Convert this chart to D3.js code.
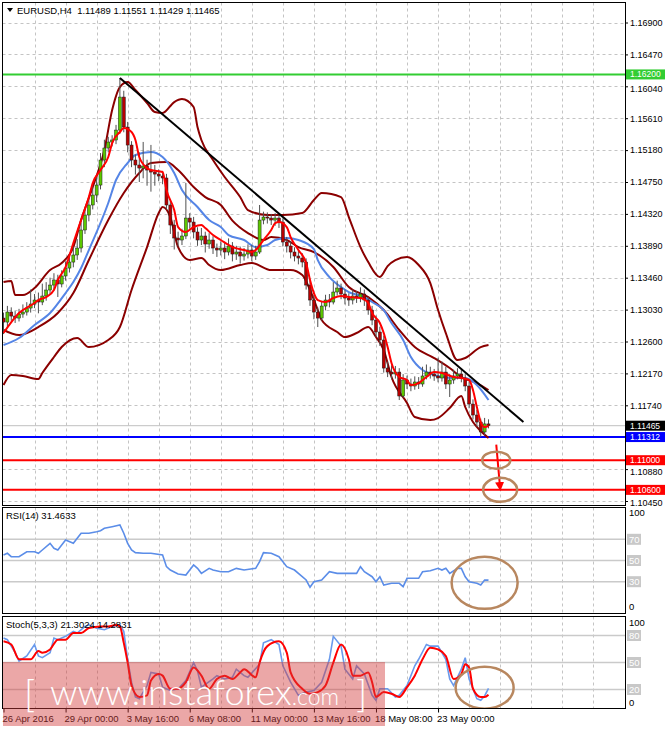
<!DOCTYPE html>
<html>
<head>
<meta charset="utf-8">
<script src="https://cdnjs.cloudflare.com/ajax/libs/d3/7.8.5/d3.min.js"></script>
<style>
  body { margin: 0; background: #fff; }
  svg { display: block; font-family: 'Liberation Sans', Arial, sans-serif; }
</style>
</head>
<body>
<svg></svg>
<script>
// EURUSD H4, one value per bar (bar 0 = 26 Apr 2016 08:00)
const opens = [1.12916,1.12862,1.12997,1.12943,1.12916,1.12970,1.12997,1.13051,1.13105,1.13159,
  1.13132,1.13213,1.13294,1.13361,1.13429,1.13375,1.13483,1.13590,1.13671,1.13766,
  1.13860,1.14103,1.14305,1.14440,1.14574,1.14709,1.15046,1.15208,1.15289,1.15316,
  1.15450,1.15895,1.15491,1.15248,1.15046,1.14979,1.14938,1.14965,1.14911,1.14884,
  1.14857,1.14830,1.14804,1.14440,1.14170,1.13995,1.13968,1.14022,1.14264,1.14210,
  1.14076,1.13968,1.14022,1.13914,1.13968,1.13860,1.13833,1.13860,1.13806,1.13887,
  1.13779,1.13806,1.13752,1.13779,1.13833,1.13752,1.13806,1.14237,1.14278,1.14264,
  1.14237,1.14264,1.14210,1.13941,1.13887,1.13806,1.13752,1.13725,1.13671,1.13361,
  1.13159,1.12997,1.12916,1.13078,1.13159,1.13132,1.13267,1.13321,1.13240,1.13186,
  1.13159,1.13213,1.13186,1.13240,1.13159,1.13024,1.12889,1.12728,1.12620,1.12242,
  1.12188,1.12162,1.12188,1.11865,1.12081,1.12027,1.12000,1.12054,1.12027,1.12135,
  1.12188,1.12162,1.12135,1.12108,1.12188,1.12027,1.12081,1.12135,1.12162,1.12108,
  1.12000,1.11757,1.11609,1.11514,1.11380,1.11489];
const highs = [1.12990,1.13080,1.13060,1.13010,1.13040,1.13100,1.13130,1.13300,1.13240,1.13260,
  1.13380,1.13400,1.13460,1.13520,1.13500,1.13560,1.13680,1.13760,1.13880,1.13980,
  1.14200,1.14400,1.14560,1.14700,1.14820,1.15140,1.15320,1.15360,1.15380,1.15520,
  1.16152,1.15980,1.15560,1.15300,1.15120,1.15150,1.15290,1.15050,1.15250,1.14980,
  1.14920,1.14900,1.14860,1.14500,1.14240,1.14080,1.14120,1.14736,1.14330,1.14280,
  1.14140,1.14130,1.14080,1.14060,1.14020,1.13920,1.13950,1.13940,1.13990,1.13940,
  1.13890,1.13880,1.13860,1.13910,1.13900,1.13890,1.14440,1.14350,1.14340,1.14320,
  1.14330,1.14310,1.14260,1.14010,1.13950,1.13870,1.13820,1.13790,1.13720,1.13420,
  1.13230,1.13060,1.13150,1.13230,1.13240,1.13400,1.13420,1.13380,1.13300,1.13250,
  1.13300,1.13280,1.13330,1.13300,1.13200,1.13080,1.12950,1.12800,1.12680,1.12330,
  1.12280,1.12270,1.12240,1.12160,1.12140,1.12100,1.12130,1.12120,1.12260,1.12290,
  1.12260,1.12230,1.12380,1.12330,1.12260,1.12160,1.12220,1.12240,1.12230,1.12160,
  1.12060,1.11820,1.11680,1.11560,1.11570,1.11551];
const lows = [1.12700,1.12800,1.12880,1.12850,1.12870,1.12920,1.12950,1.12990,1.13050,1.12980,
  1.13090,1.13150,1.13230,1.13300,1.13200,1.13330,1.13420,1.13530,1.13600,1.13700,
  1.13800,1.14050,1.14220,1.14380,1.14480,1.14650,1.14950,1.15150,1.15230,1.15260,
  1.15400,1.15420,1.15150,1.14950,1.14850,1.14750,1.14800,1.14700,1.14620,1.14700,
  1.14760,1.14720,1.14380,1.14050,1.13840,1.13880,1.13900,1.13980,1.14120,1.13990,
  1.13890,1.13900,1.13800,1.13850,1.13780,1.13740,1.13760,1.13710,1.13760,1.13680,
  1.13700,1.13650,1.13690,1.13720,1.13680,1.13700,1.13780,1.14180,1.14190,1.14170,
  1.14160,1.14130,1.13880,1.13800,1.13720,1.13680,1.13640,1.13600,1.13300,1.13080,
  1.12900,1.12795,1.12880,1.13020,1.13060,1.13100,1.13220,1.13170,1.13100,1.13080,
  1.13100,1.13120,1.13130,1.13080,1.12960,1.12820,1.12660,1.12540,1.12180,1.12120,
  1.12090,1.12100,1.11811,1.11840,1.11960,1.11930,1.11950,1.11960,1.11990,1.12090,
  1.12100,1.12070,1.12050,1.12060,1.11960,1.11852,1.12030,1.12090,1.12050,1.11930,
  1.11700,1.11550,1.11450,1.11312,1.11340,1.11429];
const closes = [1.12862,1.12997,1.12943,1.12916,1.12970,1.12997,1.13051,1.13105,1.13159,1.13132,
  1.13213,1.13294,1.13361,1.13429,1.13375,1.13483,1.13590,1.13671,1.13766,1.13860,
  1.14103,1.14305,1.14440,1.14574,1.14709,1.15046,1.15208,1.15289,1.15316,1.15450,
  1.15895,1.15491,1.15248,1.15046,1.14979,1.14938,1.14965,1.14911,1.14884,1.14857,
  1.14830,1.14804,1.14440,1.14170,1.13995,1.13968,1.14022,1.14264,1.14210,1.14076,
  1.13968,1.14022,1.13914,1.13968,1.13860,1.13833,1.13860,1.13806,1.13887,1.13779,
  1.13806,1.13752,1.13779,1.13833,1.13752,1.13806,1.14237,1.14278,1.14264,1.14237,
  1.14264,1.14210,1.13941,1.13887,1.13806,1.13752,1.13725,1.13671,1.13361,1.13159,
  1.12997,1.12916,1.13078,1.13159,1.13132,1.13267,1.13321,1.13240,1.13186,1.13159,
  1.13213,1.13186,1.13240,1.13159,1.13024,1.12889,1.12728,1.12620,1.12242,1.12188,
  1.12162,1.12188,1.11865,1.12081,1.12027,1.12000,1.12054,1.12027,1.12135,1.12188,
  1.12162,1.12135,1.12108,1.12188,1.12027,1.12081,1.12135,1.12162,1.12108,1.12000,
  1.11757,1.11609,1.11514,1.11380,1.11489,1.11465];

// indicator lines: [bar, value]
const upperBand = [[0,1.13402],[2,1.13415],[3,1.13226],[5,1.13226],[8,1.13321],[12,1.13563],[15,1.13658],
  [18,1.13873],[20,1.14237],[23,1.14682],[26,1.15181],[28,1.15720],[30,1.16030],[32,1.16098],[34,1.15990],
  [37,1.15815],[39,1.15693],[41,1.15680],[44,1.15828],[46,1.15868],[49,1.15761],[50,1.15491],[51,1.15316],
  [54,1.15046],[57,1.14817],[61,1.14547],[63,1.14372],[68,1.14305],[72,1.14305],[77,1.14332],[80,1.14507],
  [82,1.14601],[87,1.14547],[89,1.14278],[92,1.13873],[94,1.13671],[97,1.13469],[99,1.13617],[101,1.13698],
  [104,1.13739],[107,1.13631],[110,1.13388],[112,1.13024],[114,1.12714],[117,1.12350],[119,1.12377],
  [123,1.12525],[125,1.12552]];
const middleBand = [[0,1.12755],[4,1.12687],[9,1.12795],[14,1.12984],[18,1.13253],[22,1.13698],[27,1.14237],
  [31,1.14601],[35,1.14871],[38,1.15006],[42,1.15019],[45,1.14911],[49,1.14682],[52,1.14547],[56,1.14440],
  [59,1.14230],[63,1.14062],[67,1.13968],[69,1.14008],[73,1.13968],[76,1.13873],[80,1.13806],[85,1.13604],
  [89,1.13334],[94,1.13199],[98,1.13024],[102,1.12755],[106,1.12525],[111,1.12377],[115,1.12242],
  [118,1.12121],[122,1.12040],[125,1.11946]];
const lowerBand = [[0,1.12013],[2,1.12148],[5,1.12135],[9,1.12094],[10,1.12175],[13,1.12391],[15,1.12525],
  [19,1.12647],[22,1.12525],[27,1.12620],[30,1.12795],[33,1.13294],[37,1.13873],[40,1.14332],[41,1.14413],
  [43,1.14278],[45,1.13873],[48,1.13698],[51,1.13725],[53,1.13631],[56,1.13563],[61,1.13631],[64,1.13658],
  [69,1.13563],[74,1.13563],[77,1.13496],[79,1.13294],[81,1.13024],[82,1.12889],[86,1.12728],[88,1.12660],
  [91,1.12714],[94,1.12795],[96,1.12660],[98,1.12485],[100,1.12121],[104,1.11770],[106,1.11582],
  [110,1.11541],[112,1.11568],[115,1.11703],[118,1.11865],[119,1.11717],[121,1.11514],[123,1.11393],
  [125,1.11299]];
const fastMa = [[0,1.12714],[4,1.12984],[8,1.13119],[9,1.13159],[11,1.13199],[13,1.13294],[14,1.13429],
  [16,1.13604],[18,1.13927],[20,1.14237],[22,1.14547],[23,1.14736],[25,1.14911],[27,1.15087],[28,1.15275],
  [30,1.15424],[31,1.15478],[33,1.15424],[34,1.15316],[35,1.15087],[37,1.14939],[38,1.14911],[41,1.14884],
  [42,1.14642],[44,1.14372],[45,1.14143],[47,1.14076],[49,1.14143],[51,1.14170],[52,1.14130],[54,1.14035],
  [56,1.13968],[59,1.13873],[62,1.13833],[64,1.13806],[65,1.13833],[67,1.13968],[69,1.14103],[70,1.14197],
  [71,1.14210],[73,1.14143],[74,1.14008],[76,1.13833],[78,1.13658],[79,1.13429],[80,1.13253],[81,1.13159],
  [83,1.13132],[85,1.13186],[87,1.13213],[89,1.13199],[92,1.13186],[94,1.13119],[95,1.12984],[97,1.12849],
  [98,1.12714],[99,1.12525],[100,1.12310],[102,1.12121],[104,1.12081],[105,1.12013],[107,1.12040],
  [109,1.12121],[111,1.12188],[113,1.12175],[116,1.12121],[118,1.12108],[120,1.12081],[121,1.11946],
  [122,1.11717],[123,1.11514],[124,1.11447],[125,1.11461]];
const slowMa = [[0,1.12552],[4,1.12647],[8,1.12822],[12,1.12984],[16,1.13253],[18,1.13402],[20,1.13590],
  [22,1.13833],[27,1.14467],[29,1.14777],[32,1.15006],[34,1.15114],[38,1.15154],[41,1.15087],[44,1.14871],
  [46,1.14642],[50,1.14413],[53,1.14237],[56,1.14143],[58,1.14035],[62,1.13968],[65,1.13873],[68,1.13900],
  [70,1.13968],[73,1.13995],[76,1.13968],[80,1.13846],[81,1.13698],[84,1.13469],[87,1.13334],[89,1.13267],
  [93,1.13199],[95,1.13132],[98,1.13024],[100,1.12849],[103,1.12620],[105,1.12391],[108,1.12215],
  [111,1.12148],[113,1.12121],[116,1.12108],[119,1.12108],[122,1.12013],[125,1.11811]];
const trendLine = [[30,1.16152],[134,1.11515]];

const rsiLine = [[0,55.2],[1,56.8],[2,53.6],[4,53.6],[6,58.3],[8,58.3],[9,56.8],[10,59.9],[12,66.2],[13,61.5],
  [14,59.9],[16,69.3],[18,66.2],[19,70.9],[20,75.7],[22,75.7],[24,77.2],[25,78.1],[26,80.4],[28,81.9],
  [30,83.5],[31,75.7],[32,66.2],[33,59.9],[34,57.4],[36,56.8],[38,56.8],[41,55.2],[42,44.2],[43,41.0],
  [45,37.3],[47,36.3],[48,41.0],[49,45.8],[50,42.6],[51,37.9],[53,42.6],[54,41.0],[56,39.4],[58,39.4],
  [59,41.0],[60,42.6],[62,41.0],[65,42.6],[66,48.9],[67,57.4],[69,56.8],[71,53.6],[73,44.2],[75,41.0],
  [78,31.6],[79,24.7],[80,30.0],[82,31.6],[84,39.4],[86,37.9],[89,37.9],[91,37.9],[92,44.2],[93,39.4],
  [95,34.7],[96,30.0],[97,34.7],[98,26.9],[100,28.5],[102,28.5],[103,25.3],[104,33.2],[107,33.2],[108,39.4],
  [110,40.4],[112,42.6],[113,41.0],[114,42.6],[115,37.9],[117,42.6],[118,42.6],[119,34.7],[120,30.0],
  [122,28.5],[123,26.9],[124,31.6],[125,31.4633]];
const stochK = [[0,77.2],[1,75.4],[3,60.9],[4,51.7],[6,57.2],[8,70.0],[9,57.2],[10,55.4],[12,60.9],[13,77.2],
  [14,75.4],[16,79.1],[18,84.5],[19,82.7],[21,90.0],[22,91.8],[24,88.2],[26,86.4],[28,90.0],[30,91.8],
  [31,84.6],[32,53.6],[33,28.1],[34,11.7],[35,9.8],[37,24.4],[38,39.0],[40,37.2],[41,22.6],[43,18.9],
  [45,20.8],[47,29.9],[49,49.9],[50,40.8],[51,22.6],[54,31.7],[55,35.4],[57,31.7],[59,33.5],[60,42.6],
  [62,35.4],[63,33.5],[66,48.1],[67,71.8],[69,75.4],[71,70.0],[72,46.3],[74,28.1],[76,13.5],[78,17.1],
  [80,18.9],[82,28.1],[84,53.6],[85,79.1],[87,68.2],[88,42.6],[90,31.7],[91,46.3],[93,37.2],[95,13.5],
  [96,8.0],[97,20.8],[99,20.8],[101,11.7],[102,13.5],[104,24.4],[106,46.3],[107,53.6],[109,70.0],[110,68.2],
  [112,68.2],[114,53.6],[115,31.7],[116,24.4],[118,42.6],[119,55.4],[120,31.7],[122,9.8],[123,8.0],
  [124,12.8],[125,21.3024]];
const stochD = [[0,73.6],[2,70.0],[4,53.6],[7,53.6],[9,62.7],[10,60.9],[12,64.5],[14,75.4],[16,75.4],[18,82.7],
  [20,82.7],[22,88.2],[25,90.0],[27,90.0],[29,91.8],[30,90.0],[31,71.8],[32,49.9],[33,24.4],[35,11.7],
  [37,13.5],[38,29.9],[40,37.2],[41,35.4],[43,20.8],[45,20.8],[47,28.1],[49,44.5],[51,35.4],[53,20.8],
  [55,31.7],[57,35.4],[59,31.7],[61,39.0],[62,42.6],[65,33.5],[66,49.9],[68,68.2],[71,73.6],[73,60.9],
  [74,39.0],[77,20.8],[79,15.3],[81,17.1],[83,24.4],[85,49.9],[87,70.0],[89,53.6],[90,35.4],[92,35.4],
  [94,39.0],[95,28.1],[96,11.7],[98,17.1],[100,15.3],[102,11.7],[104,22.6],[106,35.4],[108,53.6],[110,66.4],
  [112,64.5],[114,57.2],[116,31.7],[118,37.2],[119,48.1],[120,44.5],[121,20.8],[123,11.7],[124,11.7],
  [125,14.2831]];

const priceTicks = [1.16900,1.16470,1.16040,1.15610,1.15180,1.14750,1.14320,1.13890,1.13460,1.13030,
  1.12600,1.12170,1.11740,1.11310,1.10880,1.10450];
const levelPrices = [1.16200, 1.11312, 1.11000, 1.10600];
const rsiTicks = [100, 70, 50, 30, 0];
const rsiLevels = [70, 50, 30];
const stochTicks = [100, 80, 50, 20, 0];
const stochLevels = [80, 50, 20];
const dateBars = [0, 16, 32, 48, 64, 80, 96, 112];
const dateLabels = ['26 Apr 2016', '29 Apr 00:00', '3 May 16:00', '6 May 08:00', '11 May 00:00',
  '13 May 16:00', '18 May 08:00', '23 May 00:00'];
const targetBars = [127, 128];
const targetPrices = [1.11000, 1.10600];
const arrowBars = [127, 128];
const arrowPrices = [1.11210, 1.10620];
const rsiMark = [124, 29];
const stochMark = [124, 22];

window.onload = () => {

  const width = 665;
  const height = 729;
  const left = 2.5;
  const right = 625;

  const pricePanel = {name: 'price', top: 2.5, bottom: 505.5};
  const rsiPanel = {name: 'rsi', top: 507.5, bottom: 613.5};
  const stochPanel = {name: 'stoch', top: 616.5, bottom: 708.5};

  const levelColors = ['#32cd32', '#0000ff', '#ff0000', '#ff0000'];
  const gridColor = '#c4c4c4';

  const svg = d3.select('svg').attr('width', width).attr('height', height);

  const x = d3.scaleLinear().domain([0, 160]).range([3.5, 3.5 + 160 * 3.88]);
  const yPrice = d3.scaleLinear().domain([1.10450, 1.16900]).range([501, 22.5]);
  const yRsi = d3.scaleLinear().domain([0, 100]).range([613.5, 507.5]);
  const yStoch = d3.scaleLinear().domain([0, 100]).range([707.5, 617.5]);

  const gridBars = d3.range(8, 160, 8);

  const makePanel = (p) => {
    svg.append('clipPath').attr('id', 'clip-' + p.name).append('rect')
      .attr('x', left).attr('y', p.top).attr('width', right - left).attr('height', p.bottom - p.top);
    const g = svg.append('g').attr('clip-path', 'url(#clip-' + p.name + ')');
    g.selectAll('.vgrid')
      .data(gridBars)
      .enter()
      .append('line')
      .attr('class', 'vgrid')
      .attr('x1', d => Math.round(x(d)) + 0.5).attr('x2', d => Math.round(x(d)) + 0.5)
      .attr('y1', p.top).attr('y2', p.bottom)
      .attr('stroke', gridColor).attr('stroke-dasharray', '3,3');
    return g;
  };

  // ---------- price panel ----------
  const pg = makePanel(pricePanel);

  pg.selectAll('.hgrid')
    .data(priceTicks)
    .enter()
    .append('line')
    .attr('x1', left).attr('x2', right)
    .attr('y1', d => Math.round(yPrice(d)) + 0.5).attr('y2', d => Math.round(yPrice(d)) + 0.5)
    .attr('stroke', gridColor).attr('stroke-dasharray', '3,3');

  // current price line
  const lastClose = closes[closes.length - 1];
  pg.append('line')
    .attr('x1', left).attr('x2', right)
    .attr('y1', yPrice(lastClose)).attr('y2', yPrice(lastClose))
    .attr('stroke', '#c0c0c0');

  pg.selectAll('.level')
    .data(levelPrices)
    .enter()
    .append('line')
    .attr('x1', left).attr('x2', right)
    .attr('y1', d => yPrice(d)).attr('y2', d => yPrice(d))
    .attr('stroke', (d, i) => levelColors[i]).attr('stroke-width', 2);

  const priceLine = d3.line().x(d => x(d[0])).y(d => yPrice(d[1])).curve(d3.curveMonotoneX);

  [upperBand, middleBand, lowerBand].forEach(band => {
    pg.append('path').datum(band)
      .attr('d', priceLine)
      .attr('fill', 'none').attr('stroke', '#8b0000').attr('stroke-width', 2);
  });
  pg.append('path').datum(slowMa)
    .attr('d', priceLine)
    .attr('fill', 'none').attr('stroke', '#5585e6').attr('stroke-width', 2);

  const bars = d3.range(closes.length).map(i => ({i: i, o: opens[i], h: highs[i], l: lows[i], c: closes[i]}));

  pg.selectAll('.wick')
    .data(bars)
    .enter()
    .append('line')
    .attr('class', 'wick')
    .attr('x1', d => x(d.i)).attr('x2', d => x(d.i))
    .attr('y1', d => yPrice(d.h)).attr('y2', d => yPrice(d.l))
    .attr('stroke', '#505050');

  pg.selectAll('.body')
    .data(bars)
    .enter()
    .append('rect')
    .attr('class', 'body')
    .attr('x', d => x(d.i) - 1.5)
    .attr('width', 3)
    .attr('y', d => yPrice(Math.max(d.o, d.c)))
    .attr('height', d => Math.max(1, Math.abs(yPrice(d.o) - yPrice(d.c))))
    .attr('fill', d => d.c >= d.o ? '#5cc800' : '#b80000')
    .attr('stroke', '#1a1a1a').attr('stroke-width', 0.5);

  pg.append('path').datum(fastMa)
    .attr('d', priceLine)
    .attr('fill', 'none').attr('stroke', '#ff0000').attr('stroke-width', 2);

  pg.append('path').datum(trendLine)
    .attr('d', d3.line().x(d => x(d[0])).y(d => yPrice(d[1])))
    .attr('fill', 'none').attr('stroke', '#000').attr('stroke-width', 2);

  // forecast arrow and target ellipses
  svg.append('defs').append('marker')
    .attr('id', 'arrowhead')
    .attr('viewBox', '0 0 10 10').attr('refX', 7).attr('refY', 5)
    .attr('markerWidth', 4.5).attr('markerHeight', 5).attr('orient', 'auto')
    .append('path').attr('d', 'M0,0 L10,5 L0,10 Z').attr('fill', '#ff0000');

  pg.append('line')
    .attr('x1', x(arrowBars[0])).attr('y1', yPrice(arrowPrices[0]))
    .attr('x2', x(arrowBars[1])).attr('y2', yPrice(arrowPrices[1]))
    .attr('stroke', '#ff0000').attr('stroke-width', 2)
    .attr('marker-end', 'url(#arrowhead)');

  pg.selectAll('.target')
    .data(targetBars)
    .enter()
    .append('ellipse')
    .attr('cx', d => x(d))
    .attr('cy', (d, i) => yPrice(targetPrices[i]))
    .attr('rx', (d, i) => i === 0 ? 14 : 17)
    .attr('ry', (d, i) => i === 0 ? 8.5 : 12)
    .attr('fill', 'none').attr('stroke', '#b8875f').attr('stroke-width', 2.5);

  // ---------- RSI panel ----------
  const rg = makePanel(rsiPanel);
  rg.selectAll('.lvl')
    .data(rsiLevels)
    .enter()
    .append('line')
    .attr('x1', left).attr('x2', right)
    .attr('y1', d => yRsi(d)).attr('y2', d => yRsi(d))
    .attr('stroke', '#cacaca').attr('stroke-width', 1.5);
  rg.append('path').datum(rsiLine)
    .attr('d', d3.line().x(d => x(d[0])).y(d => yRsi(d[1])))
    .attr('fill', 'none').attr('stroke', '#5b8de8').attr('stroke-width', 1.6);
  rg.append('ellipse')
    .attr('cx', x(rsiMark[0])).attr('cy', yRsi(rsiMark[1]))
    .attr('rx', 33).attr('ry', 26)
    .attr('fill', 'none').attr('stroke', '#b8875f').attr('stroke-width', 2.5);

  // ---------- Stochastic panel ----------
  const sg = makePanel(stochPanel);
  sg.selectAll('.lvl')
    .data(stochLevels)
    .enter()
    .append('line')
    .attr('x1', left).attr('x2', right)
    .attr('y1', d => yStoch(d)).attr('y2', d => yStoch(d))
    .attr('stroke', '#cacaca').attr('stroke-width', 1.5);
  const stochLine = d3.line().x(d => x(d[0])).y(d => yStoch(d[1]));
  sg.append('path').datum(stochK)
    .attr('d', stochLine)
    .attr('fill', 'none').attr('stroke', '#6a9aec').attr('stroke-width', 1.6);
  sg.append('path').datum(stochD)
    .attr('d', stochLine.curve(d3.curveMonotoneX))
    .attr('fill', 'none').attr('stroke', '#ff0000').attr('stroke-width', 2);
  sg.append('ellipse')
    .attr('cx', x(stochMark[0])).attr('cy', yStoch(stochMark[1]))
    .attr('rx', 29).attr('ry', 21)
    .attr('fill', 'none').attr('stroke', '#b8875f').attr('stroke-width', 2.5);

  // ---------- frames ----------
  [pricePanel, rsiPanel, stochPanel].forEach(p => {
    svg.append('rect')
      .attr('x', left).attr('y', p.top)
      .attr('width', right - left).attr('height', p.bottom - p.top)
      .attr('fill', 'none').attr('stroke', '#000').attr('shape-rendering', 'crispEdges');
  });

  // ---------- axes ----------
  const boxPrices = levelPrices.concat([lastClose]);
  const boxColors = levelColors.concat(['#000000']);

  const priceAxis = svg.append('g')
    .attr('transform', 'translate(' + right + ',0)')
    .call(d3.axisRight(yPrice).tickValues(priceTicks).tickFormat(d3.format('.5f')).tickSize(3).tickPadding(2));
  priceAxis.select('.domain').remove();
  priceAxis.selectAll('text')
    .style('font-size', '9px').style('font-family', "'Liberation Sans', Arial, sans-serif")
    .attr('dy', d => {
      // nudge labels that sit right next to a coloured price box
      const gap = d3.min(boxPrices, b => Math.abs(yPrice(b) - yPrice(d)));
      const near = boxPrices.find(b => Math.abs(yPrice(b) - yPrice(d)) === gap);
      return gap < 12 ? (yPrice(d) > yPrice(near) ? '0.55em' : '0.1em') : '0.32em';
    })
    .filter(d => d3.min(boxPrices, b => Math.abs(yPrice(b) - yPrice(d))) < 4)
    .remove();

  const boxes = svg.selectAll('.pricebox')
    .data(boxPrices)
    .enter()
    .append('g')
    .attr('transform', d => 'translate(' + (right + 1) + ',' + yPrice(d) + ')');
  boxes.append('rect')
    .attr('x', 0).attr('y', -5).attr('width', 39).attr('height', 10)
    .attr('fill', (d, i) => boxColors[i]);
  boxes.append('text')
    .attr('x', 4).attr('dy', '0.34em')
    .attr('fill', '#fff').style('font-size', '8.5px')
    .text(d => d3.format('.5f')(d));

  const oscLabels = (ticks, levels, scale, topShift, bottomShift) => {
    const g = svg.append('g');
    g.selectAll('text')
      .data(ticks)
      .enter()
      .append('text')
      .attr('x', right + 4)
      .attr('y', d => scale(d) + (d === 100 ? topShift : d === 0 ? bottomShift : 0))
      .attr('dy', '0.34em')
      .style('font-size', '9.5px')
      .attr('fill', d => levels.includes(d) ? '#fff' : '#000')
      .each(function(d) {
        if (levels.includes(d)) {
          g.insert('rect', 'text')
            .attr('x', right + 2).attr('y', scale(d) - 5.5)
            .attr('width', 14).attr('height', 11).attr('fill', '#c8c8c8');
        }
      })
      .text(d => d);
  };
  oscLabels(rsiTicks, rsiLevels, yRsi, 5.5, -6.5);
  oscLabels(stochTicks, stochLevels, yStoch, 5.5, -4.5);

  const timeAxis = svg.append('g')
    .attr('transform', 'translate(0,' + stochPanel.bottom + ')')
    .call(d3.axisBottom(x).tickValues(dateBars).tickFormat((d, i) => dateLabels[i]).tickSize(4).tickPadding(3));
  timeAxis.select('.domain').remove();
  timeAxis.selectAll('text')
    .attr('text-anchor', 'start').attr('x', -1.5)
    .style('font-size', '9.5px').style('font-family', "'Liberation Sans', Arial, sans-serif");

  // ---------- titles ----------
  svg.append('path').attr('d', 'M7,8 L13,8 L10,12 Z').attr('fill', '#000');
  const last = closes.length - 1;
  const f5 = d3.format('.5f');
  svg.append('text')
    .attr('x', 17).attr('y', 14)
    .style('font-size', '9.5px')
    .attr('xml:space', 'preserve')
    .text('EURUSD,H4  ' + [opens[last], highs[last], lows[last], closes[last]].map(f5).join(' '));
  svg.append('text')
    .attr('x', 6).attr('y', 519)
    .style('font-size', '9.5px')
    .text('RSI(14) ' + d3.format('.4f')(rsiLine[rsiLine.length - 1][1]));
  svg.append('text')
    .attr('x', 6).attr('y', 628)
    .style('font-size', '9.5px')
    .text('Stoch(5,3,3) ' + d3.format('.4f')(stochK[stochK.length - 1][1]) + ' ' + d3.format('.4f')(stochD[stochD.length - 1][1]));

  // ---------- watermark ----------
  const wm = svg.append('g');
  wm.append('rect')
    .attr('x', 3).attr('y', 662).attr('width', 382).attr('height', 64)
    .attr('fill', '#d23c3c').attr('fill-opacity', 0.45);
  const wmFont = "'Lato Light', 'Open Sans Light', Lato, 'Open Sans', sans-serif";
  wm.append('text').attr('x', 24).attr('y', 707)
    .style('font-family', wmFont).style('font-weight', 300).style('font-size', '38px')
    .attr('fill', '#fff').text('[');
  const wt = wm.append('text').attr('x', 50).attr('y', 705)
    .style('font-family', wmFont).style('font-weight', 300)
    .attr('fill', '#fff');
  wt.append('tspan').style('font-size', '36px').text('www.instaforex');
  wt.append('tspan').style('font-size', '23px').text('.com');
  wm.append('text').attr('x', 356).attr('y', 707)
    .style('font-family', wmFont).style('font-weight', 300).style('font-size', '38px')
    .attr('fill', '#fff').text(']');

};
</script>
</body>
</html>
